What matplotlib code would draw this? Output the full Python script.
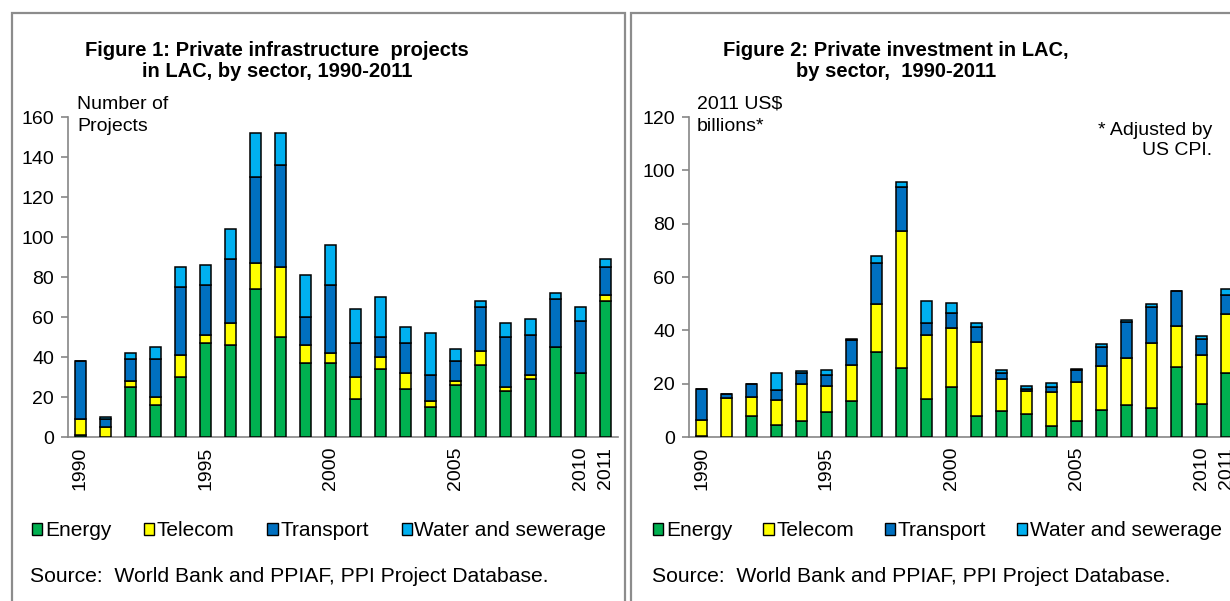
import numpy as np
import matplotlib
matplotlib.use("Agg")
import matplotlib.pyplot as plt
from matplotlib.patches import Patch, Rectangle

plt.rcParams['font.family'] = ['Liberation Sans', 'DejaVu Sans']

############################################
# data
############################################
years = list(range(1990, 2012))
tick_years = [1990, 1995, 2000, 2005, 2010, 2011]
sectors = ['Energy', 'Telecom', 'Transport', 'Water and sewerage']
colors = ['#00B050', '#FFFF00', '#0070C0', '#00B0F0']

# Figure 1: number of projects
proj_energy = [1, 0, 25, 16, 30, 47, 46, 74, 50, 37, 37, 19, 34, 24, 15, 26, 36, 23, 29, 45, 32, 68]
proj_telecom = [8, 5, 3, 4, 11, 4, 11, 13, 35, 9, 5, 11, 6, 8, 3, 2, 7, 2, 2, 0, 0, 3]
proj_transport = [29, 4, 11, 19, 34, 25, 32, 43, 51, 14, 34, 17, 10, 15, 13, 10, 22, 25, 20, 24, 26, 14]
proj_water = [0, 1, 3, 6, 10, 10, 15, 22, 16, 21, 20, 17, 20, 8, 21, 6, 3, 7, 8, 3, 7, 4]

# Figure 2: investment, 2011 US$ billions
inv_energy = [0.5, 0, 8, 4.4, 6, 9.5, 13.5, 32, 25.9, 14.3, 18.8, 7.9, 9.8, 8.8, 4.1, 5.9, 10.3, 12, 11, 26.1, 12.3, 23.9]
inv_telecom = [5.9, 14.8, 7.1, 9.5, 14, 9.5, 13.6, 17.9, 51.5, 24, 21.9, 27.9, 12, 8.5, 12.8, 14.9, 16.5, 17.6, 24.4, 15.7, 18.3, 22.4]
inv_transport = [11.7, 1.5, 4.8, 3.6, 3.9, 4.3, 9.3, 15.2, 16.4, 4.5, 5.9, 5.5, 2.2, 0.7, 2, 4.3, 7, 13.7, 13.5, 12.8, 6.1, 6.9]
inv_water = [0, 0, 0, 6.4, 0.9, 1.9, 0.5, 2.9, 1.9, 8.3, 3.6, 1.3, 1, 1, 1.5, 0.3, 1, 0.7, 1, 0.3, 1.3, 2.2]

W, H = 1230, 601
fig = plt.figure(figsize=(W / 100, H / 100), dpi=100)

# panel frames
border = '#8c8c8c'
fig.add_artist(Rectangle((12 / W, -0.05), (625 - 12) / W, 1.05 - 13 / H, transform=fig.transFigure,
                         fill=False, edgecolor=border, lw=1.6))
fig.add_artist(Rectangle((631 / W, -0.05), 0.6, 1.05 - 13 / H, transform=fig.transFigure,
                         fill=False, edgecolor=border, lw=1.6))


def stacked(ax, series, ymax, step):
    x = np.arange(len(years))
    bottom = np.zeros(len(years))
    for vals, c in zip(series, colors):
        vals = np.array(vals, dtype=float)
        ax.bar(x, vals, 0.44, bottom=bottom, color=c, edgecolor='black', lw=1.1, zorder=3)
        bottom += vals
    ax.set_xlim(-0.5, len(years) - 0.5)
    ax.set_ylim(0, ymax)
    ax.set_yticks(np.arange(0, ymax + 1, step))
    ax.set_xticks([years.index(y) for y in tick_years])
    ax.set_xticklabels([str(y) for y in tick_years], rotation=90)
    for s in ['top', 'right']:
        ax.spines[s].set_visible(False)
    for s in ['left', 'bottom']:
        ax.spines[s].set_color('#868686')
        ax.spines[s].set_linewidth(1.2)
    ax.tick_params(axis='y', colors='#868686', labelcolor='black', labelsize=14, length=5, width=1.2, pad=5)
    ax.tick_params(axis='x', length=0, labelsize=14, pad=7)


ax1 = fig.add_axes([68 / W, (H - 437) / H, 550 / W, 320 / H])
stacked(ax1, [proj_energy, proj_telecom, proj_transport, proj_water], 160, 20)

ax2 = fig.add_axes([689 / W, (H - 437) / H, 550 / W, 320 / H])
stacked(ax2, [inv_energy, inv_telecom, inv_transport, inv_water], 120, 20)

# titles and notes
fig.text(277 / W, 1 - 61 / H, 'Figure 1: Private infrastructure  projects\nin LAC, by sector, 1990-2011',
         ha='center', va='center', fontsize=14.5, fontweight='bold', linespacing=1.15)
fig.text(896 / W, 1 - 61 / H, 'Figure 2: Private investment in LAC,\nby sector,  1990-2011',
         ha='center', va='center', fontsize=14.5, fontweight='bold', linespacing=1.15)
fig.text(77 / W, 1 - 96 / H, 'Number of\nProjects', ha='left', va='top', fontsize=14, linespacing=1.35)
fig.text(697 / W, 1 - 96 / H, '2011 US$\nbillions*', ha='left', va='top', fontsize=14, linespacing=1.35)
fig.text(1212 / W, 1 - 122 / H, '* Adjusted by\nUS CPI.', ha='right', va='top', fontsize=14,
         multialignment='right', linespacing=1.2)

handles = [Patch(facecolor=c, edgecolor='black', lw=1) for c in colors]
for x0, cs in [(32, 1.57), (653, 1.48)]:
    fig.legend(handles, sectors, loc='center left', bbox_to_anchor=(x0 / W, 1 - 531 / H), ncol=4,
               frameon=False, fontsize=15, handlelength=0.5, handleheight=0.5,
               handletextpad=0.12, columnspacing=cs, borderpad=0, borderaxespad=0)

fig.text(30 / W, 1 - 577 / H, 'Source:  World Bank and PPIAF, PPI Project Database.', ha='left', va='center',
         fontsize=15.2)
fig.text(652 / W, 1 - 577 / H, 'Source:  World Bank and PPIAF, PPI Project Database.', ha='left', va='center',
         fontsize=15.2)

fig.savefig('out.png', dpi=100)
